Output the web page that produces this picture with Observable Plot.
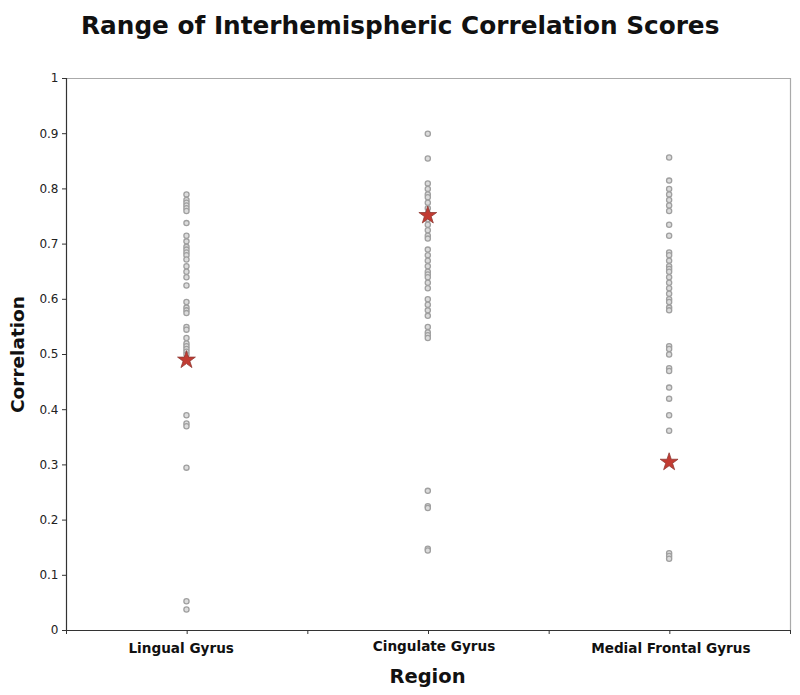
<!DOCTYPE html>
<html>
<head>
<meta charset="utf-8">
<script src="https://cdn.jsdelivr.net/npm/d3@7"></script>
<script src="https://cdn.jsdelivr.net/npm/@observablehq/plot@0.6"></script>
<style>
  body { margin: 0; background: #fff; font-family: "DejaVu Sans", sans-serif; }
  #title { height: 60px; line-height: 52px; padding-left: 81px; font-size: 24.75px; font-weight: bold; color: #111; white-space: nowrap; }
</style>
</head>
<body>
<div id="title">Range of Interhemispheric Correlation Scores</div>
<div id="chart"></div>
<script>
const regiones = ['Lingual Gyrus', 'Cingulate Gyrus', 'Medial Frontal Gyrus'];
const lingual = [0.79, 0.78, 0.775, 0.77, 0.765, 0.76, 0.738, 0.715, 0.705, 0.695, 0.69, 0.685, 0.68, 0.672, 0.66, 0.65, 0.64, 0.625, 0.595, 0.585, 0.58, 0.575, 0.55, 0.545, 0.53, 0.52, 0.515, 0.51, 0.505, 0.5, 0.39, 0.375, 0.37, 0.295, 0.053, 0.038];
const cingulate = [0.9, 0.855, 0.81, 0.8, 0.79, 0.785, 0.775, 0.765, 0.755, 0.745, 0.735, 0.725, 0.715, 0.71, 0.69, 0.68, 0.67, 0.66, 0.65, 0.645, 0.64, 0.63, 0.62, 0.6, 0.59, 0.58, 0.57, 0.55, 0.54, 0.535, 0.53, 0.253, 0.225, 0.222, 0.148, 0.145];
const medial = [0.857, 0.815, 0.8, 0.79, 0.78, 0.77, 0.76, 0.735, 0.715, 0.685, 0.68, 0.67, 0.66, 0.655, 0.65, 0.64, 0.63, 0.62, 0.61, 0.6, 0.595, 0.585, 0.58, 0.515, 0.51, 0.5, 0.475, 0.47, 0.44, 0.42, 0.39, 0.362, 0.14, 0.135, 0.13];
const estrellas = [0.49, 0.752, 0.305];
const yTicks = [0, 0.1, 0.2, 0.3, 0.4, 0.5, 0.6, 0.7, 0.8, 0.9, 1];
const xTicks = [0.5, 1, 1.5, 2, 2.5, 3, 3.5];

const puntos = [lingual, cingulate, medial].flatMap((valores, i) => valores.map((v) => ({x: i + 1, y: v})));
const marcadas = estrellas.map((v, i) => ({x: i + 1, y: v}));

// the region labels are not quite centred in the original
const etiqueta = (i, dx, dy) => Plot.text([regiones[i]], {
  x: i + 1, y: 0, dx, dy, fontSize: 13.6, fontWeight: 'bold', fill: '#111',
});

let chart = Plot.plot({
  width: 800,
  height: 635,
  marginLeft: 66,
  marginRight: 10,
  marginTop: 18,
  marginBottom: 65,
  style: {fontFamily: '"DejaVu Sans", sans-serif', background: 'white'},
  x: {domain: [0.5, 3.5]},
  y: {domain: [0, 1]},
  marks: [
    Plot.ruleY([1], {stroke: '#aaa', strokeWidth: 1.2}),
    Plot.ruleX([3.5], {stroke: '#aaa', strokeWidth: 1.2}),
    Plot.ruleY([0], {stroke: '#333', strokeWidth: 1.2}),
    Plot.ruleX([0.5], {stroke: '#333', strokeWidth: 1.2}),
    Plot.axisY({ticks: yTicks, tickFormat: (d) => String(d), tickSize: 4, stroke: '#333', fontSize: 12, fill: '#222', label: null, tickPadding: 4}),
    Plot.axisX({ticks: xTicks, tickFormat: () => '', tickSize: 4, stroke: '#333', label: null}),
    etiqueta(0, -6, 18),
    etiqueta(1, 5.5, 16),
    etiqueta(2, 1, 18),
    Plot.text(['Region'], {x: 2, y: 0, dx: -1, dy: 46, fontSize: 19.5, fontWeight: 'bold', fill: '#111'}),
    Plot.text(['Correlation'], {x: 0.5, y: 0.5, dx: -48, rotate: -90, fontSize: 18.5, fontWeight: 'bold', fill: '#111'}),
    Plot.dot(puntos, {x: 'x', y: 'y', dx: -0.7, r: 2.6, fill: '#dcdcdc', stroke: '#a0a0a0', strokeWidth: 1.3}),
    Plot.dot(marcadas, {x: 'x', y: 'y', dx: -0.7, symbol: 'star', r: 5.6, fill: '#c23b32', stroke: '#8f3a34', strokeWidth: 0.8}),
  ],
});

d3.select('#chart').append(() => chart);
</script>
</body>
</html>
